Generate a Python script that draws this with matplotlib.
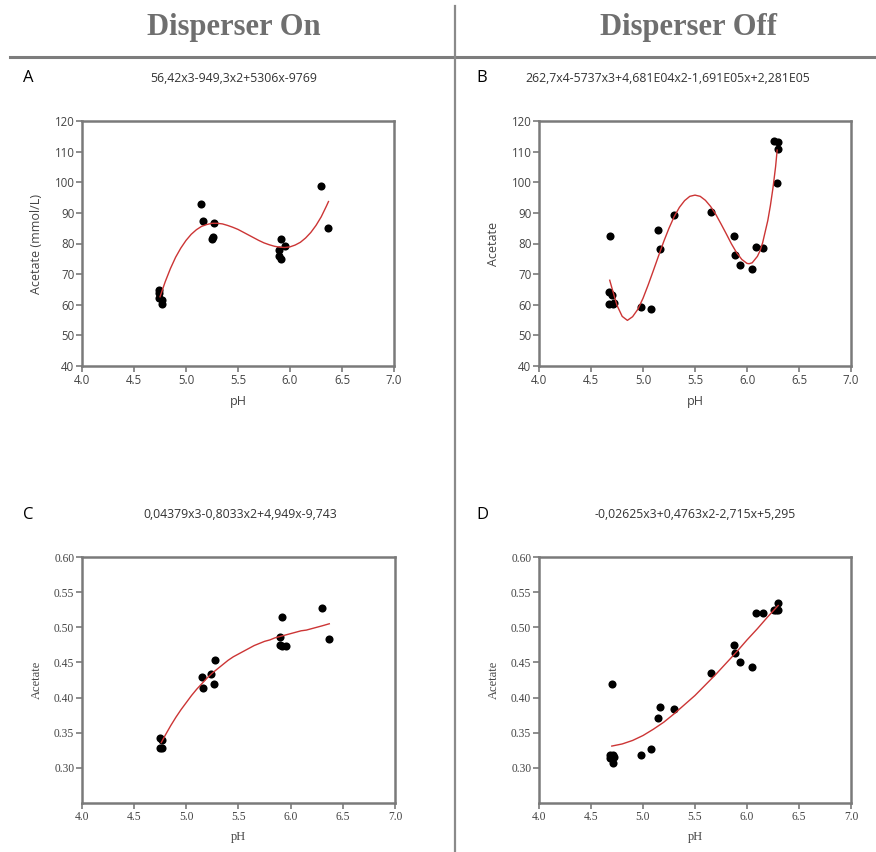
import matplotlib
matplotlib.use("Agg")
import matplotlib.pyplot as plt
from matplotlib.lines import Line2D

# ---- data ----
# panel A: Disperser On, acetate (mmol/L)
a_ph = [4.742, 4.742, 4.742, 4.768, 4.768, 5.148, 5.161, 5.270, 5.247, 5.263,
        5.916, 5.951, 5.893, 5.893, 5.916, 6.296, 6.370]
a_ac = [64.7, 63.8, 62.3, 61.5, 60.2, 93.0, 87.5, 86.7, 81.4, 82.1,
        81.4, 79.3, 77.9, 75.8, 74.8, 98.8, 85.1]
a_fit_ph = [4.75, 4.80, 4.85, 4.90, 4.95, 5.00, 5.05, 5.10, 5.15, 5.20,
            5.25, 5.30, 5.35, 5.40, 5.45, 5.50, 5.55, 5.60, 5.65, 5.70,
            5.75, 5.80, 5.85, 5.90, 5.95, 6.00, 6.05, 6.10, 6.15, 6.20,
            6.25, 6.30, 6.35, 6.37]
a_fit_ac = [62.6, 67.5, 71.8, 75.5, 78.5, 81.0, 83.0, 84.5, 85.6, 86.2,
            86.6, 86.6, 86.4, 85.9, 85.3, 84.6, 83.7, 82.8, 81.9, 81.0,
            80.2, 79.6, 79.1, 78.8, 78.7, 78.9, 79.5, 80.4, 81.8, 83.6,
            85.9, 88.7, 92.2, 93.7]

# panel B: Disperser Off, acetate (mmol/L)
b_ph = [4.683, 4.676, 4.702, 4.676, 4.708, 4.724, 4.981, 5.074, 5.144, 5.163,
        5.301, 5.651, 5.878, 5.885, 5.933, 6.045, 6.083, 6.157, 6.260, 6.298,
        6.295, 6.285]
b_ac = [82.3, 64.1, 63.3, 60.2, 60.2, 60.7, 59.4, 58.5, 84.3, 78.3,
        89.4, 90.2, 82.5, 76.4, 73.0, 71.7, 79.0, 78.6, 113.6, 113.1,
        110.8, 99.6]
b_fit_ph = [4.68, 4.70, 4.75, 4.80, 4.85, 4.90, 4.95, 5.00, 5.05, 5.10,
            5.15, 5.20, 5.25, 5.30, 5.35, 5.40, 5.45, 5.50, 5.55, 5.60,
            5.65, 5.70, 5.75, 5.80, 5.85, 5.90, 5.95, 6.00, 6.02, 6.05,
            6.10, 6.125, 6.15, 6.20, 6.225, 6.25, 6.275, 6.29]
b_fit_ac = [68.0, 65.6, 59.8, 56.2, 54.9, 56.1, 58.5, 62.1, 66.5, 71.2,
            76.0, 80.7, 85.0, 88.8, 91.8, 94.0, 95.4, 95.8, 95.4, 94.1,
            92.1, 89.5, 86.4, 83.2, 79.9, 77.0, 74.8, 73.5, 73.4, 73.7,
            75.8, 77.6, 80.2, 87.5, 92.4, 98.2, 105.1, 110.5]

# panel C: Disperser On, acetate (relative)
c_ph = [4.744, 4.769, 4.744, 4.769, 5.149, 5.162, 5.241, 5.261, 5.270,
        5.896, 5.896, 5.921, 5.921, 5.953, 6.298, 6.372]
c_ac = [0.342, 0.340, 0.328, 0.328, 0.429, 0.413, 0.433, 0.420, 0.454,
        0.486, 0.475, 0.515, 0.474, 0.474, 0.527, 0.484]
c_fit_ph = [4.76, 4.80, 4.85, 4.90, 4.95, 5.00, 5.05, 5.10, 5.15, 5.20,
            5.25, 5.30, 5.35, 5.40, 5.45, 5.50, 5.55, 5.60, 5.65, 5.70,
            5.75, 5.80, 5.85, 5.90, 5.95, 6.00, 6.05, 6.10, 6.15, 6.20,
            6.25, 6.30, 6.37]
c_fit_ac = [0.336, 0.347, 0.360, 0.372, 0.383, 0.393, 0.403, 0.412, 0.420,
            0.428, 0.435, 0.441, 0.447, 0.453, 0.458, 0.462, 0.466, 0.470,
            0.474, 0.477, 0.480, 0.482, 0.485, 0.487, 0.489, 0.491, 0.493,
            0.495, 0.496, 0.498, 0.500, 0.502, 0.505]

# panel D: Disperser Off, acetate (relative)
d_ph = [4.702, 4.683, 4.708, 4.683, 4.724, 4.708, 4.981, 5.074, 5.144, 5.163,
        5.301, 5.651, 5.878, 5.885, 5.933, 6.045, 6.083, 6.157, 6.260, 6.298,
        6.295, 6.279]
d_ac = [0.420, 0.318, 0.319, 0.314, 0.315, 0.307, 0.318, 0.327, 0.371, 0.387,
        0.384, 0.435, 0.475, 0.463, 0.451, 0.443, 0.521, 0.521, 0.524, 0.535,
        0.525, 0.524]
d_fit_ph = [4.7, 4.8, 4.9, 5.0, 5.1, 5.2, 5.3, 5.4, 5.5, 5.6, 5.7, 5.8,
            5.9, 6.0, 6.1, 6.2, 6.3]
d_fit_ac = [0.331, 0.334, 0.339, 0.346, 0.355, 0.365, 0.377, 0.390, 0.403,
            0.418, 0.433, 0.449, 0.465, 0.482, 0.498, 0.515, 0.531]

equations = [
    "56,42x3-949,3x2+5306x-9769",
    "262,7x4-5737x3+4,681E04x2-1,691E05x+2,281E05",
    "0,04379x3-0,8033x2+4,949x-9,743",
    "-0,02625x3+0,4763x2-2,715x+5,295",
]
letters = ["A", "B", "C", "D"]
headers = ["Disperser On", "Disperser Off"]

W, H = 876, 852
SANS = "Open Sans"
SERIF = "Liberation Serif"
AXIS_GREY = "#7a7a7a"
FIT_RED = "#cc3535"

fig = plt.figure(figsize=(W / 100, H / 100), dpi=100)


def fx(px):
    return px / W


def fy(py):
    return 1 - py / H


def add_panel(left, top, right, bottom):
    return fig.add_axes([fx(left), fy(bottom), fx(right - left), (bottom - top) / H])


def style_axes(ax, family, ylabel):
    for side in ["left", "bottom", "right", "top"]:
        ax.spines[side].set_color(AXIS_GREY)
        ax.spines[side].set_linewidth(1.8)
    ax.tick_params(direction="out", length=4, width=1.2, color=AXIS_GREY,
                   labelsize=8.3, labelcolor="#444444", pad=1.5)
    ax.set_xlim(4.0, 7.0)
    ax.set_xticks([4.0, 4.5, 5.0, 5.5, 6.0, 6.5, 7.0])
    ax.set_xticklabels(["4.0", "4.5", "5.0", "5.5", "6.0", "6.5", "7.0"], family=family)
    ax.set_xlabel("pH", family=family, fontsize=9, color="#444444", labelpad=6)
    ax.set_ylabel(ylabel, family=family, fontsize=9, color="#444444", labelpad=8)


panels = [
    (add_panel(82, 121, 394, 366), a_ph, a_ac, a_fit_ph, a_fit_ac),
    (add_panel(539, 121, 851, 366), b_ph, b_ac, b_fit_ph, b_fit_ac),
    (add_panel(82, 557, 395, 803), c_ph, c_ac, c_fit_ph, c_fit_ac),
    (add_panel(539, 557, 851, 803), d_ph, d_ac, d_fit_ph, d_fit_ac),
]

for i, (ax, xs, ys, fxs, fys) in enumerate(panels):
    ax.scatter(xs, ys, s=34, color="black", zorder=3, linewidths=0)
    ax.plot(fxs, fys, color=FIT_RED, lw=1.0, zorder=4)
    if i < 2:
        ax.set_ylim(40, 120)
        ax.set_yticks(range(40, 121, 10))
        ax.set_yticklabels([str(v) for v in range(40, 121, 10)], family=SANS)
        style_axes(ax, SANS, "Acetate (mmol/L)" if i == 0 else "Acetate")
    else:
        ax.set_ylim(0.25, 0.60)
        ticks = [0.30, 0.35, 0.40, 0.45, 0.50, 0.55, 0.60]
        ax.set_yticks(ticks)
        ax.set_yticklabels([f"{t:.2f}" for t in ticks], family=SERIF)
        style_axes(ax, SERIF, "Acetate")

# column headers and separators
fig.text(fx(234), fy(27), headers[0], family=SERIF, weight="bold", fontsize=22,
         color="#6f6f6f", ha="center", va="center")
fig.text(fx(688), fy(27), headers[1], family=SERIF, weight="bold", fontsize=22,
         color="#6f6f6f", ha="center", va="center")
fig.add_artist(Line2D([fx(10), 1], [fy(57), fy(57)], color="#7d7d7d", lw=2.2))
fig.add_artist(Line2D([fx(455), fx(455)], [fy(6), 0], color="#8a8a8a", lw=1.6))

# panel letters and fitted equations
letter_pos = [(28, 78), (482, 78), (28, 515), (482, 515)]
eq_pos = [(234, 78), (668, 78), (240, 515), (695, 515)]
for letter, (lx, ly), eq, (ex, ey) in zip(letters, letter_pos, equations, eq_pos):
    fig.text(fx(lx), fy(ly), letter, family=SANS, fontsize=12, color="black",
             ha="center", va="center")
    fig.text(fx(ex), fy(ey), eq, family=SANS, fontsize=8.8, color="#333333",
             ha="center", va="center")

fig.savefig("out.png", dpi=100, facecolor="white")
